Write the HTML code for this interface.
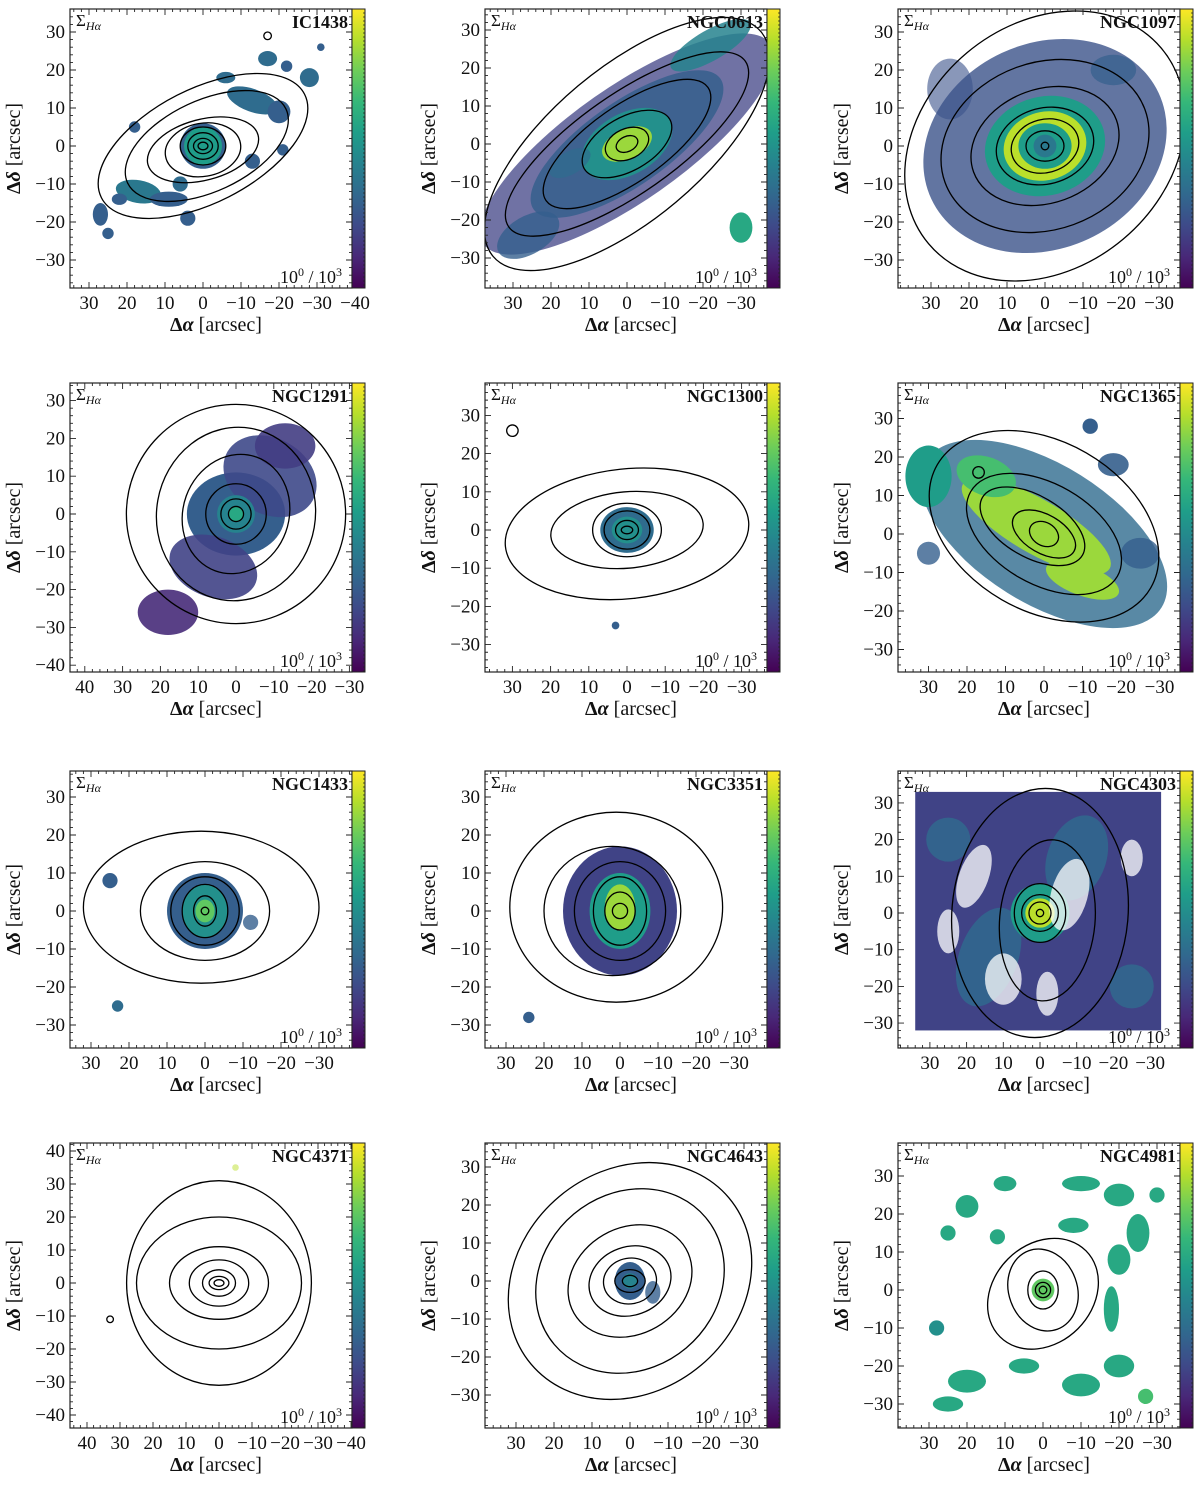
<!DOCTYPE html>
<html><head><meta charset="utf-8"><style>
html,body{margin:0;padding:0;background:#fff;}
svg text{font-family:"Liberation Serif",serif;fill:#111;}
</style></head><body>
<svg id="fig" xmlns="http://www.w3.org/2000/svg" width="1200" height="1485" viewBox="0 0 1200 1485"></svg>
<script>
// ---- per-panel data (arcsec) ----
const galaxyNames = ["IC1438","NGC0613","NGC1097","NGC1291","NGC1300","NGC1365","NGC1433","NGC3351","NGC4303","NGC4371","NGC4643","NGC4981"];
const xTicks = [[30,20,10,0,-10,-20,-30,-40],[30,20,10,0,-10,-20,-30],[30,20,10,0,-10,-20,-30],[40,30,20,10,0,-10,-20,-30],[30,20,10,0,-10,-20,-30],[30,20,10,0,-10,-20,-30],[30,20,10,0,-10,-20,-30],[30,20,10,0,-10,-20,-30],[30,20,10,0,-10,-20,-30],[40,30,20,10,0,-10,-20,-30,-40],[30,20,10,0,-10,-20,-30],[30,20,10,0,-10,-20,-30]];
const yTicks = [[30,20,10,0,-10,-20,-30],[30,20,10,0,-10,-20,-30],[30,20,10,0,-10,-20,-30],[30,20,10,0,-10,-20,-30,-40],[30,20,10,0,-10,-20,-30],[30,20,10,0,-10,-20,-30],[30,20,10,0,-10,-20,-30],[30,20,10,0,-10,-20,-30],[30,20,10,0,-10,-20,-30],[40,30,20,10,0,-10,-20,-30,-40],[30,20,10,0,-10,-20,-30],[30,20,10,0,-10,-20,-30]];
// contours: [cx, cy, rx, ry, angleDeg]
const contours = [
 [[0,0,30,15,27],[-1,0,23,12,25],[0,-1,15,8,15],[0,-1,10,7,10],[0,0,6,5,0],[0,0,4,3.5,0],[0,0,2.5,2,0],[0,0,1.3,1,0],[-17,29,1,1,0]],
 [[0,0,46,20,40],[0,0,38,13,35],[0,0,26,10,35],[0,0,13,7,30],[0,0,6,4,25],[0,0,3,2,25]],
 [[0,0,40,32,40],[0,0,28,22,20],[0,0,20,15,20],[0,0,13,10,15],[0,0,9,7,15],[0,0,5,4,0],[0,0,1,1,0]],
 [[0,0,29,29,0],[0,0,21,23,-10],[0,0,14,16,-20],[0,0,8,8,0],[0,0,4,4,0],[0,0,2,2,0]],
 [[0,-1,32,17,6],[0,0,20,10,5],[0,0,9,7,0],[0,0,6,5,0],[0,0,3,2.5,0],[0,0,1.5,1,0],[30,26,1.5,1.5,0]],
 [[0,2,32,22,-30],[0,0,22,13,-30],[3,2,15,8,-30],[0,0,9,5,-30],[0,0,4,3,-30],[17,16,1.5,1.5,0]],
 [[1,1,31,20,0],[0,0,17,13,0],[0,0,9,9,0],[0,0,6,7,0],[0,0,3,4,0],[0,0,1,1,0]],
 [[1,1,28,25,0],[2,0,18,17,0],[0,0,12,13,0],[0,0,7,9,0],[0,0,4,5,0],[0,0,2,2,0]],
 [[0,0,24,34,-5],[-2,-2,13,22,-5],[0,0,7,8,0],[0,0,5,5,0],[0,0,3,3,0],[0,0,1,1,0]],
 [[0,0,28,31,0],[0,0,25,20,0],[0,0,15,11,0],[0,0,9,7,0],[0,0,5,4,0],[0,0,3,2,0],[0,0,1.5,1,0],[33,-11,1,1,0]],
 [[0,0,34,29,40],[0,0,26,23,40],[0,0,17,14,30],[0,0,11,9,20],[0,0,7,6,10],[0,0,4,3,0],[0,0,2,1.5,0]],
 [[0,-1,16,13,45],[0,0,9,11,20],[0,0,4,5,0],[0,0,2,2,0],[0,0,1,1,0]]
];
// emission blobs: [cx, cy, rx, ry, angleDeg, level(0..1), opacity]
const blobs = [
 [[0,0,6,6,0,0.3,1],[0,0,5,5,0,0.55,1],[-13,12,7,3,-20,0.35,1],[-20,9,3,3,0,0.3,1],[-6,18,2.5,1.5,0,0.35,1],[17,-12,6,3,-10,0.4,1],[9,-14,5,2,0,0.3,1],[4,-19,2,2,0,0.3,1],[-17,23,2.5,2,0,0.35,1],[-22,21,1.5,1.5,0,0.3,1],[-28,18,2.5,2.5,0,0.35,1],[-31,26,1,1,0,0.3,1],[27,-18,2,3,0,0.3,1],[25,-23,1.5,1.5,0,0.3,1],[6,-10,2,2,0,0.35,1],[-13,-4,2,2,0,0.3,1],[-21,-1,1.5,1.5,0,0.3,1],[18,5,1.5,1.5,0,0.3,1],[22,-14,2,1.5,0,0.3,1]],
 [[0,0,46,15,35,0.2,0.75],[0,0,30,11,35,0.3,0.85],[0,0,13,8,30,0.5,1],[0,0,7,4,25,0.85,1],[-22,26,12,4,30,0.45,0.85],[26,-24,9,5,30,0.3,0.8],[-30,-22,3,4,0,0.6,1],[15,-5,6,3,30,0.35,0.7]],
 [[0,0,33,27,25,0.25,0.8],[0,0,16,13,15,0.55,1],[0,0,11,9,15,0.9,1],[0,0,7,6,0,0.55,1],[0,0,3,3,0,0.4,1],[-18,20,6,4,0,0.3,0.7],[25,15,6,8,0,0.25,0.6]],
 [[0,0,13,11,0,0.3,1],[-9,10,13,10,-30,0.22,0.9],[-13,18,8,6,0,0.18,0.9],[6,-14,12,8,-20,0.2,0.9],[18,-26,8,6,0,0.12,0.9],[0,0,5,5,0,0.45,1],[0,0,2,2,0,0.6,1]],
 [[0,0,7,6,0,0.35,1],[0,0,4,3.5,0,0.5,1],[3,-25,1,1,0,0.3,1]],
 [[0,0,36,18,-32,0.35,0.8],[2,2,22,7,-30,0.85,1],[15,15,8,5,-20,0.7,1],[-10,-12,10,4,-20,0.85,1],[30,15,6,8,0,0.55,1],[-18,18,4,3,0,0.3,0.9],[30,-5,3,3,0,0.3,0.8],[-25,-5,5,4,0,0.3,0.8],[-12,28,2,2,0,0.3,1]],
 [[0,0,10,10,0,0.3,1],[0,0,6,7,0,0.5,1],[0,0,2.5,3,0,0.75,1],[23,-25,1.5,1.5,0,0.35,1],[25,8,2,2,0,0.3,1],[-12,-3,2,2,0,0.3,0.8]],
 [[0,0,15,17,0,0.2,1],[0,0,8,10,0,0.55,1],[0,1,4,6,0,0.85,1],[24,-28,1.5,1.5,0,0.3,1]],
 [[-10,15,8,12,-20,0.33,0.9],[14,-12,8,14,-20,0.33,0.9],[25,20,6,6,0,0.35,0.8],[-25,-20,6,6,0,0.35,0.8],[0,0,8,8,0,0.55,1],[0,0,4,4,0,0.9,1]],
 [[-5,35,1,1,0,0.9,0.5]],
 [[0,0,4,5,0,0.3,1],[-6,-3,2,3,0,0.3,0.8],[0,0,2,2,0,0.45,1]],
 [[0,0,3,3,0,0.75,1],[-20,25,4,3,0,0.6,1],[-10,28,5,2,0,0.6,1],[10,28,3,2,0,0.6,1],[20,22,3,3,0,0.6,1],[25,15,2,2,0,0.6,1],[-25,15,3,5,0,0.6,1],[-20,8,3,4,0,0.6,1],[-18,-5,2,6,0,0.6,1],[-20,-20,4,3,0,0.6,1],[-10,-25,5,3,0,0.6,1],[5,-20,4,2,0,0.6,1],[20,-24,5,3,0,0.6,1],[25,-30,4,2,0,0.6,1],[-27,-28,2,2,0,0.7,1],[12,14,2,2,0,0.6,1],[-8,17,4,2,0,0.6,1],[-30,25,2,2,0,0.6,1],[28,-10,2,2,0,0.5,1]]
];
// filled rectangular fields: [panelIndex, xLeft, xRight, yTop, yBottom, level]
const fields = [[8,34,-33,33,-32,0.2]];
// ---- layout (pixels) ----
const colL=[70,485,898], colR=[352,767,1180], rowT=[9,383,771,1143], rowB=[288,672,1048,1428];
const zeroX=[203,627,1045,236,627,1044,205,620,1040,219,630,1043];
const zeroY=[146,144,146,514,530,534,911,911,913,1283,1281,1290];
const scl=[3.8,3.8,3.8,3.78,3.82,3.85,3.8,3.8,3.67,3.3,3.8,3.8];
const NS="http://www.w3.org/2000/svg";
const svg=document.getElementById('fig');
const V=[[68,1,84],[72,40,120],[62,74,137],[49,104,142],[38,130,142],[31,158,137],[53,183,121],[109,205,89],[180,222,44],[253,231,37]];
function vir(t){t=Math.max(0,Math.min(1,t))*9;const i=Math.min(8,Math.floor(t)),f=t-i;const a=V[i],b=V[i+1];return `rgb(${Math.round(a[0]+(b[0]-a[0])*f)},${Math.round(a[1]+(b[1]-a[1])*f)},${Math.round(a[2]+(b[2]-a[2])*f)})`;}
function el(tag,attrs,parent){const e=document.createElementNS(NS,tag);for(const k in attrs)e.setAttribute(k,attrs[k]);(parent||svg).appendChild(e);return e;}
const defs=el('defs',{});
const lg=el('linearGradient',{id:'vgrad',x1:0,y1:1,x2:0,y2:0},defs);
for(let i=0;i<=9;i++){el('stop',{offset:(i/9),'stop-color':vir(i/9)},lg);}
for(let p=0;p<12;p++){
  const c=p%3,r=Math.floor(p/3);
  const L=colL[c],R=colR[c],T=rowT[r],B=rowB[r];
  const X=v=>zeroX[p]-v*scl[p], Y=v=>zeroY[p]-v*scl[p], S=v=>v*scl[p];
  const g=el('g',{});
  
  
  const cp=el('clipPath',{id:'cp'+p},defs);el('rect',{x:L,y:T,width:R-L,height:B-T},cp);
  const map=el('g',{'clip-path':`url(#cp${p})`},g);
  
  
  fields.filter(f=>f[0]===p).forEach(f=>{const e=el('rect',{x:X(f[1]),y:Y(f[3]),width:X(f[2])-X(f[1]),height:Y(f[4])-Y(f[3]),fill:vir(f[5])},map);
    
    });
  blobs[p].forEach(b=>{const e=el('ellipse',{cx:X(b[0]),cy:Y(b[1]),rx:S(b[2]),ry:S(b[3]),transform:`rotate(${-b[4]} ${X(b[0])} ${Y(b[1])})`,fill:vir(b[5]),'fill-opacity':b[6]},map);
    
    });
  if(p===8){[[18,10,4,9,-20],[-8,5,5,10,-15],[10,-18,5,7,0],[-2,-22,3,6,0],[25,-5,3,6,0],[-25,15,3,5,0]].forEach(w=>{el('ellipse',{cx:X(w[0]),cy:Y(w[1]),rx:S(w[2]),ry:S(w[3]),transform:`rotate(${-w[4]} ${X(w[0])} ${Y(w[1])})`,fill:'#fff','fill-opacity':0.75},map);});}
  contours[p].forEach(k=>{const e=el('ellipse',{cx:X(k[0]),cy:Y(k[1]),rx:S(k[2]),ry:S(k[3]),transform:`rotate(${-k[4]} ${X(k[0])} ${Y(k[1])})`,fill:'none',stroke:'#000','stroke-width':1.3},map);
    
    });
  const fr=el('rect',{x:L,y:T,width:R-L,height:B-T,fill:'none',stroke:'#222','stroke-width':1.2},g);
  
  
  let d='';
  for(let v=-50;v<=50;v+=2){const x=X(v);if(x>L+1&&x<R-1){d+=`M${x} ${B}v-3M${x} ${T}v3`;}const y=Y(v);if(y>T+1&&y<B-1){d+=`M${L} ${y}h3M${R} ${y}h-3`;}}
  xTicks[p].forEach(v=>{const x=X(v);d+=`M${x} ${B}v-6M${x} ${T}v6`;});
  yTicks[p].forEach(v=>{const y=Y(v);d+=`M${L} ${y}h6M${R} ${y}h-6`;});
  el('path',{d,stroke:'#222','stroke-width':0.9,fill:'none'},g);
  xTicks[p].forEach(v=>{const t=el('text',{x:X(v),y:B+21,'text-anchor':'middle','font-size':19},g);t.textContent=v<0?'\u2212'+(-v):''+v;
    
    });
  yTicks[p].forEach(v=>{const t=el('text',{x:L-5,y:Y(v)+6,'text-anchor':'end','font-size':19},g);t.textContent=v<0?'\u2212'+(-v):''+v;
    
    });
  const xt=el('text',{x:(L+R)/2+5,y:B+43,'text-anchor':'middle','font-size':20},g);
  xt.innerHTML='<tspan font-weight="bold">\u0394</tspan><tspan font-style="italic" font-weight="bold">\u03b1</tspan> [arcsec]';
  
  
  const ty=(T+B)/2, tx=L-50;
  const yt=el('text',{x:tx,y:ty,'text-anchor':'middle','font-size':20,transform:`rotate(-90 ${tx} ${ty})`},g);
  yt.innerHTML='<tspan font-weight="bold">\u0394</tspan><tspan font-style="italic" font-weight="bold">\u03b4</tspan> [arcsec]';
  
  
  const sg=el('text',{x:L+6,y:T+17,'font-size':17},g);
  sg.innerHTML='\u03a3<tspan font-size="12" dy="4" font-style="italic">H\u03b1</tspan>';
  
  
  const nm=el('text',{x:R-4,y:T+19,'text-anchor':'end','font-size':18,'font-weight':'bold'},g);
  nm.textContent=galaxyNames[p];
  
  
  const rg=el('text',{x:R-10,y:B-5,'text-anchor':'end','font-size':18},g);
  rg.innerHTML='10<tspan font-size="12" dy="-7">0</tspan><tspan dy="7"> / 10</tspan><tspan font-size="12" dy="-7">3</tspan>';
  
  
  const cb=el('rect',{x:R,y:T,width:13,height:B-T,fill:'url(#vgrad)',stroke:'#222','stroke-width':1},g);
  
  
  let cd='';for(let y=T+4;y<B;y+=4){cd+=`M${R+13} ${y}h-2`;}
  el('path',{d:cd,stroke:'#222','stroke-width':0.7},g);
}
</script>
</body></html>
